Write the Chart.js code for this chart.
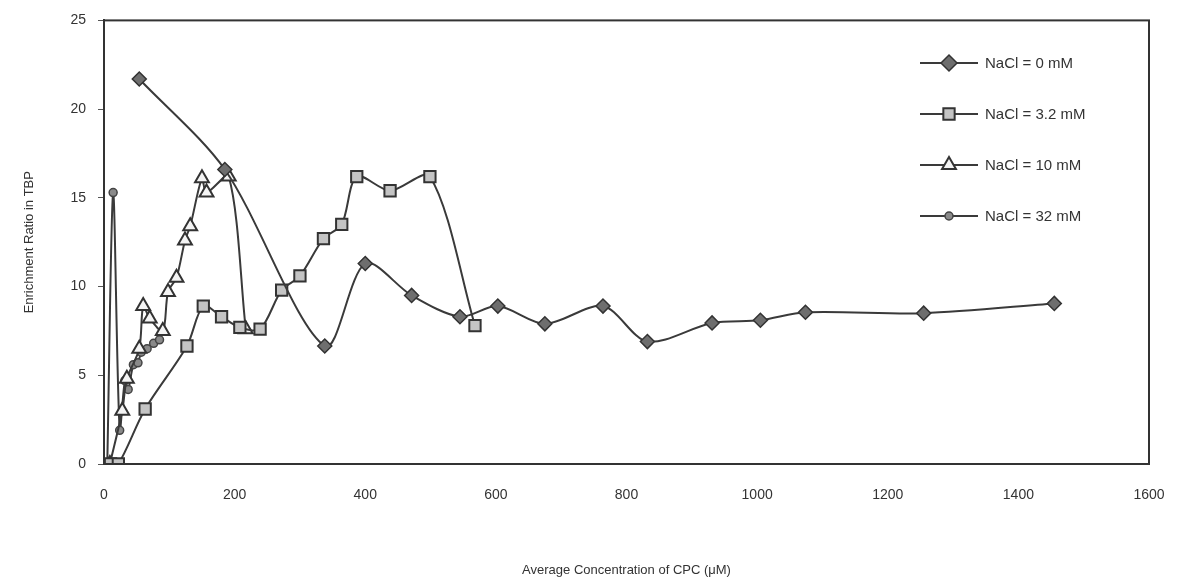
<!DOCTYPE html>
<html>
<head>
<meta charset="utf-8">
<script src="https://cdn.jsdelivr.net/npm/chart.js@4"></script>
<style>
  html, body { margin: 0; padding: 0; background: #fff; }
  #wrap { width: 1188px; height: 583px; }
</style>
</head>
<body>
<div id="wrap"><canvas id="chart" width="1188" height="583"></canvas></div>
<script>
const nacl0X = [54, 185, 338, 400, 471, 545, 603, 675, 764, 832, 931, 1005, 1074, 1255, 1455];
const nacl0Y = [21.7, 16.6, 6.65, 11.3, 9.5, 8.3, 8.9, 7.9, 8.9, 6.9, 7.95, 8.1, 8.55, 8.5, 9.05];

const nacl32X = [10, 22, 63, 127, 152, 180, 208, 239, 272, 300, 336, 364, 387, 438, 499, 568];
const nacl32Y = [0, 0, 3.1, 6.65, 8.9, 8.3, 7.7, 7.6, 9.8, 10.6, 12.7, 13.5, 16.2, 15.4, 16.2, 7.8];

const nacl10X = [9, 28, 35, 54, 60, 70, 90, 98, 111, 124, 132, 150, 157, 191, 217];
const nacl10Y = [0, 3.0, 4.8, 6.5, 8.9, 8.2, 7.5, 9.7, 10.5, 12.6, 13.4, 16.1, 15.3, 16.2, 7.6];

const nacl320X = [5, 14, 24, 32, 37, 45, 52, 57, 66, 76, 85];
const nacl320Y = [0, 15.3, 1.9, 4.7, 4.2, 5.6, 5.7, 6.3, 6.5, 6.8, 7.0];

const seriesLabels = ['NaCl = 0 mM', 'NaCl = 3.2 mM', 'NaCl = 10 mM', 'NaCl = 32 mM'];
const xTicks = [0, 200, 400, 600, 800, 1000, 1200, 1400, 1600];
const yTicks = [0, 5, 10, 15, 20, 25];

const toPoints = (xs, ys) => xs.map((x, i) => ({ x, y: ys[i] }));

const LINE = '#3a3a3a';
const FONT = "'Liberation Sans', Arial, sans-serif";

const markerStyles = [
  { pointStyle: 'rectRot', pointRadius: 7, pointBackgroundColor: '#6e6e6e', pointBorderColor: '#333', pointBorderWidth: 1.5 },
  { pointStyle: 'rect', pointRadius: 8, pointBackgroundColor: '#c4c4c4', pointBorderColor: '#333', pointBorderWidth: 2 },
  { pointStyle: 'triangle', pointRadius: 8, pointBackgroundColor: '#f4f4f4', pointBorderColor: '#333', pointBorderWidth: 2 },
  { pointStyle: 'circle', pointRadius: 4, pointBackgroundColor: '#8a8a8a', pointBorderColor: '#444', pointBorderWidth: 1.5 }
];

const allData = [
  toPoints(nacl0X, nacl0Y),
  toPoints(nacl32X, nacl32Y),
  toPoints(nacl10X, nacl10Y),
  toPoints(nacl320X, nacl320Y)
];

const datasets = allData.map((data, i) => ({
  label: seriesLabels[i],
  data,
  borderColor: LINE,
  borderWidth: 2,
  tension: 0.3,
  ...markerStyles[i]
}));

// full box around the plot plus the legend sitting inside it
const boxAndLegend = {
  id: 'boxAndLegend',
  afterDraw(chart) {
    const { ctx, chartArea: a } = chart;
    ctx.save();
    ctx.strokeStyle = '#333';
    ctx.lineWidth = 2;
    ctx.strokeRect(a.left, a.top, a.right - a.left, a.bottom - a.top);

    chart.data.datasets.forEach((ds, i) => {
      const y = 63 + i * 51;
      ctx.strokeStyle = LINE;
      ctx.lineWidth = 2;
      ctx.beginPath();
      ctx.moveTo(920, y);
      ctx.lineTo(978, y);
      ctx.stroke();
      ctx.fillStyle = ds.pointBackgroundColor;
      ctx.strokeStyle = ds.pointBorderColor;
      ctx.lineWidth = ds.pointBorderWidth;
      Chart.helpers.drawPoint(ctx, {
        pointStyle: ds.pointStyle,
        rotation: 0,
        radius: ds.pointStyle === 'circle' ? 4 : 8,
        borderWidth: ds.pointBorderWidth
      }, 949, y);
      ctx.fillStyle = '#333';
      ctx.font = `15px ${FONT}`;
      ctx.textBaseline = 'middle';
      ctx.textAlign = 'left';
      ctx.fillText(ds.label, 985, y + 1);
    });
    ctx.restore();
  }
};

new Chart(document.getElementById('chart').getContext('2d'), {
  type: 'line',
  data: { datasets },
  options: {
    responsive: false,
    animation: false,
    layout: { padding: { left: 18, top: 17, right: 39, bottom: 0 } },
    plugins: { legend: { display: false }, tooltip: { enabled: false } },
    scales: {
      x: {
        type: 'linear',
        min: 0,
        max: 1600,
        afterFit: (scale) => { scale.height = 119; },
        afterBuildTicks: (scale) => { scale.ticks = xTicks.map((v) => ({ value: v })); },
        ticks: { color: '#333', font: { family: FONT, size: 14 }, padding: 17, maxRotation: 0, callback: (v) => String(v) },
        grid: { display: false, drawOnChartArea: false, drawTicks: true, tickLength: 6, tickColor: '#555' },
        border: { display: true, color: '#333', width: 2 },
        title: { display: true, text: 'Average Concentration of CPC (μM)', color: '#333', font: { family: FONT, size: 13 }, padding: { top: 4, bottom: 5 } }
      },
      y: {
        min: 0,
        max: 25,
        afterFit: (scale) => { scale.width = 86; },
        afterBuildTicks: (scale) => { scale.ticks = yTicks.map((v) => ({ value: v })); },
        ticks: { color: '#333', font: { family: FONT, size: 14 }, padding: 12, callback: (v) => String(v) },
        grid: { display: true, drawOnChartArea: false, drawTicks: true, tickLength: 6, tickColor: '#555' },
        border: { display: true, color: '#333', width: 2 },
        title: { display: true, text: 'Enrichment Ratio in TBP', color: '#333', font: { family: FONT, size: 13 }, padding: { top: 4, bottom: 4 } }
      }
    }
  },
  plugins: [boxAndLegend]
});
</script>
</body>
</html>
